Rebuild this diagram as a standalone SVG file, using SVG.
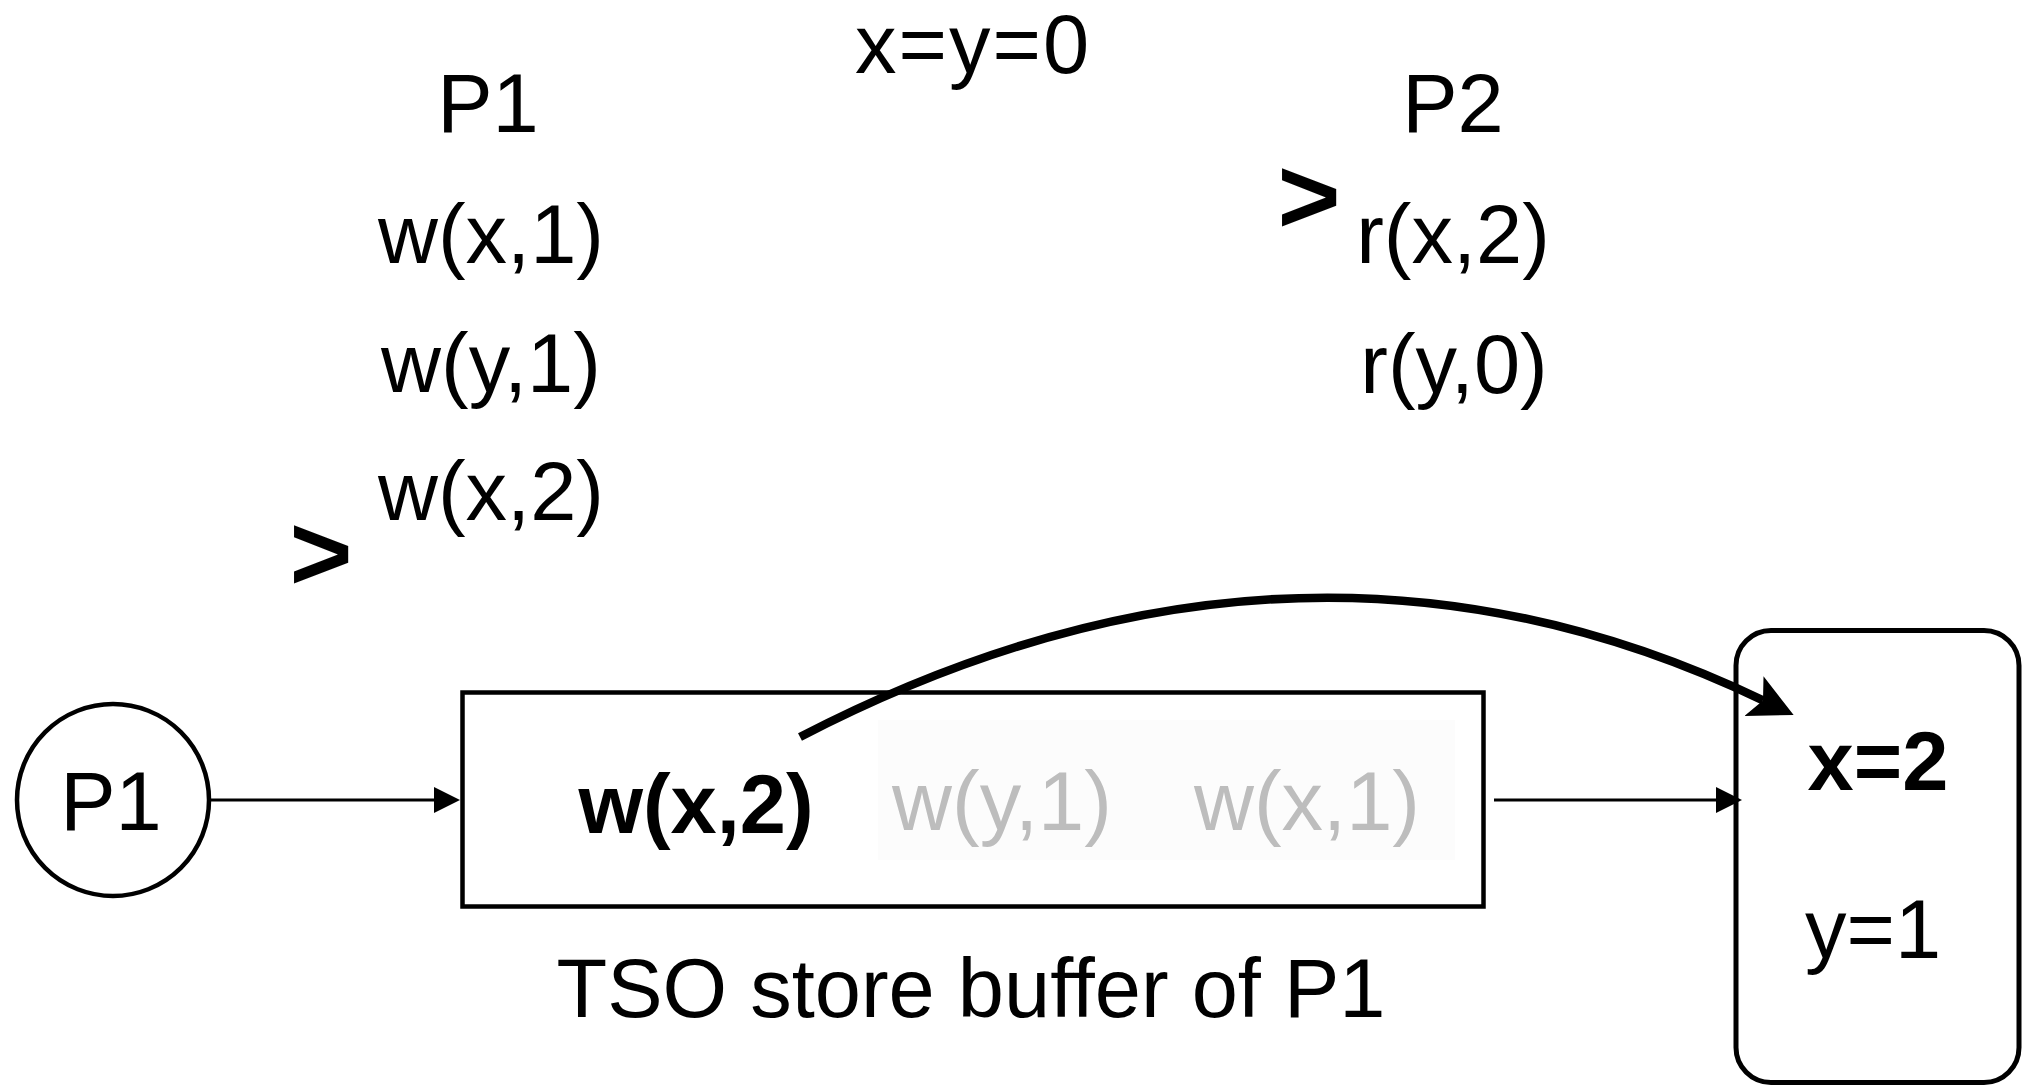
<svg xmlns="http://www.w3.org/2000/svg" width="2023" height="1089" viewBox="0 0 2023 1089">
<style>
.t{font-family:"Liberation Sans",Arial,sans-serif;font-size:83px;fill:#000;text-anchor:middle}
.b{font-weight:bold}
.g{fill:#bdbdbd}
.gt{font-family:"Liberation Sans",Arial,sans-serif;font-weight:bold;font-size:108px;fill:#000;text-anchor:middle}
.shape{fill:#fff;stroke:#000}
.edge{fill:none;stroke:#000}
</style>
<defs>
<marker id="arr" markerUnits="userSpaceOnUse" markerWidth="26" markerHeight="26" viewBox="0 0 26 26" refX="0" refY="13" orient="auto">
<path d="M0,0 L26,13 L0,26 z" fill="#000"/>
</marker>
<marker id="bigarr" markerUnits="userSpaceOnUse" markerWidth="44" markerHeight="44" viewBox="0 0 44 44" refX="10" refY="22" orient="auto">
<path d="M0,0 L44,22 L0,44 L10,22 z" fill="#000"/>
</marker>
</defs>
<rect width="2023" height="1089" fill="#fff"/>
<g id="program">
<text class="t" x="973" y="73" letter-spacing="2">x=y=0</text>
<text class="t" x="488" y="132">P1</text>
<text class="t" x="1453" y="132">P2</text>
<text class="t" x="491" y="263">w(x,1)</text>
<text class="t" x="491" y="392">w(y,1)</text>
<text class="t" x="491" y="520">w(x,2)</text>
<text class="t" x="1453" y="263">r(x,2)</text>
<text class="t" x="1454" y="393">r(y,0)</text>
<text class="gt" x="321" y="590">&gt;</text>
<text class="gt" x="1309" y="233">&gt;</text>
</g>
<g id="node-p1">
<circle class="shape" cx="113" cy="800" r="96" stroke-width="4.5"/>
<text class="t" x="111" y="830">P1</text>
</g>
<g id="node-buffer">
<rect class="shape" x="462.5" y="692.5" width="1021" height="214" stroke-width="4.5"/>
<rect x="878" y="720" width="577" height="140" fill="#fcfcfc"/>
<text class="t b" x="696" y="833">w(x,2)</text>
<text class="t g" x="1002" y="830">w(y,1)</text>
<text class="t g" x="1307" y="830">w(x,1)</text>
<text class="t" x="971" y="1017">TSO store buffer of P1</text>
</g>
<g id="node-memory">
<rect class="shape" x="1736" y="630.5" width="283" height="452" rx="35" ry="35" stroke-width="5"/>
<text class="t b" x="1878" y="790">x=2</text>
<text class="t" x="1873" y="958">y=1</text>
</g>
<g id="connectors">
<line class="edge" x1="209" y1="800" x2="434" y2="800" stroke-width="3" marker-end="url(#arr)"/>
<line class="edge" x1="1494" y1="800" x2="1716" y2="800" stroke-width="3" marker-end="url(#arr)"/>
<path class="edge" d="M800,737 Q1300,478 1763,700.4" stroke-width="8.5" marker-end="url(#bigarr)"/>
</g>
</svg>
